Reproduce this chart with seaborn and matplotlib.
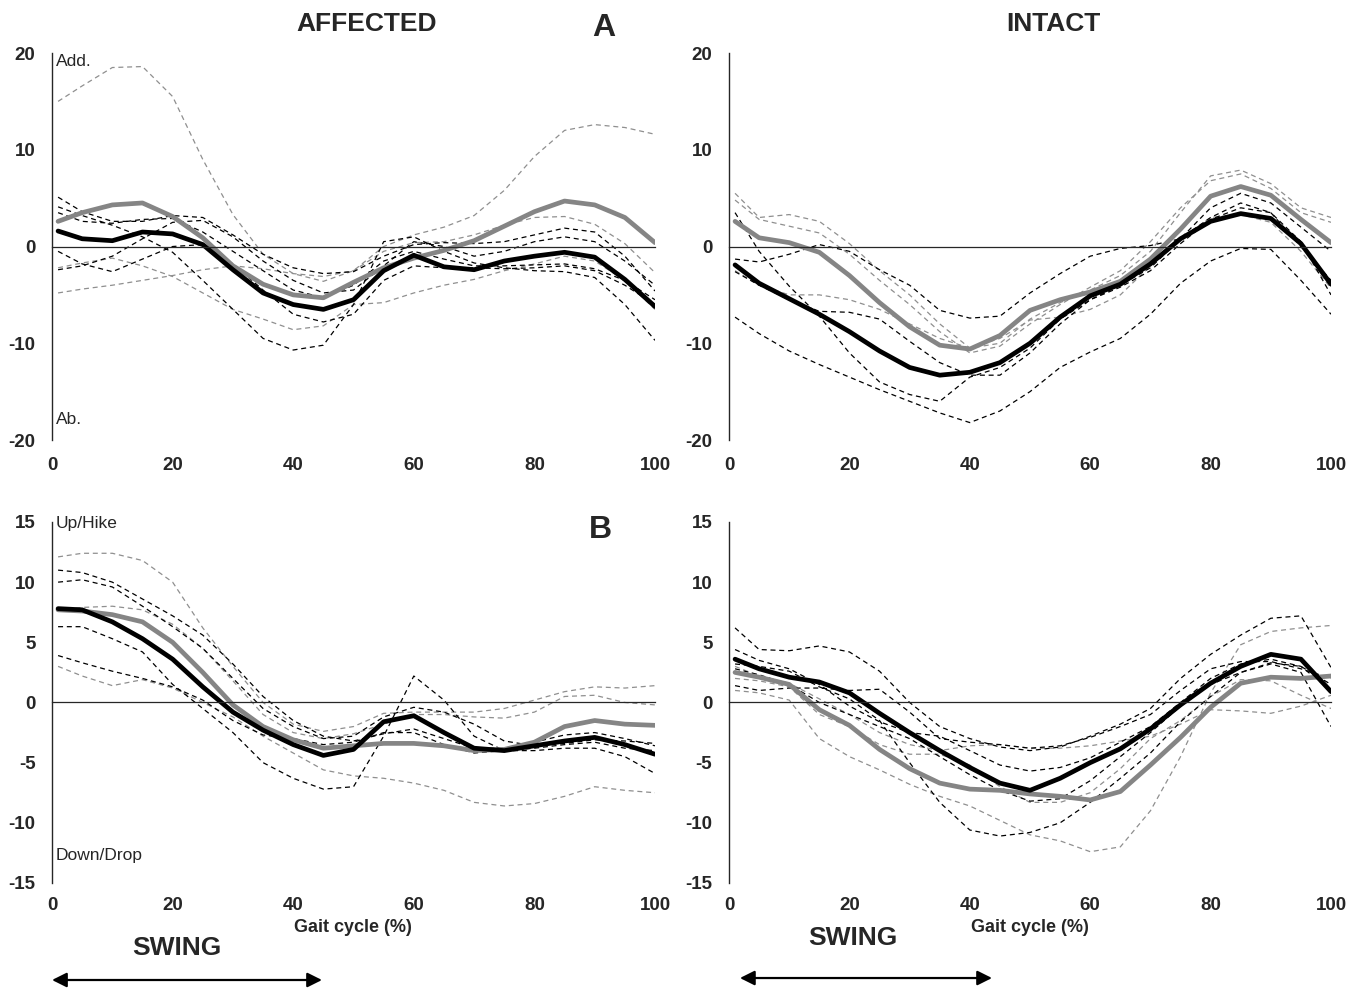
import matplotlib
matplotlib.use("Agg")
import matplotlib.pyplot as plt
import seaborn as sns

sns.set_style("white")
plt.rcParams["font.family"] = ["Liberation Sans", "DejaVu Sans"]
plt.rcParams["axes.unicode_minus"] = False

# gait cycle samples (%)
GAIT = [1, 5, 10, 15, 20, 25, 30, 35, 40, 45, 50, 55, 60, 65, 70, 75, 80, 85, 90, 95, 100]

# ---- A, affected side ----
A_AFF_BLACK = [1.6, 0.8, 0.6, 1.5, 1.3, 0.2, -2.4, -4.8, -6.0, -6.5, -5.5, -2.5, -0.9, -2.1, -2.4, -1.5, -1.0, -0.6, -1.1, -3.4, -6.2]
A_AFF_GRAY = [2.6, 3.5, 4.3, 4.5, 3.1, 0.9, -2.0, -3.9, -5.0, -5.3, -3.7, -2.2, -1.2, -0.4, 0.6, 2.1, 3.6, 4.7, 4.3, 3.0, 0.4]
A_AFF_K1 = [5.1, 3.6, 2.6, 2.6, 3.2, 3.0, 1.2, -0.8, -2.2, -2.8, -2.6, -1.0, 0.2, 0.4, 0.3, 0.5, 1.2, 1.9, 1.5, -1.0, -4.6]
A_AFF_K2 = [4.1, 3.2, 2.2, 1.0, -0.6, -3.5, -6.5, -9.5, -10.7, -10.2, -6.0, 0.5, 1.0, -0.5, -1.7, -2.2, -2.5, -2.6, -3.2, -6.0, -9.7]
A_AFF_K3 = [-0.5, -1.8, -2.6, -1.3, 0.0, 0.2, -1.8, -4.5, -7.0, -7.8, -7.0, -3.5, -2.0, -2.2, -2.2, -2.3, -2.2, -2.0, -2.5, -4.0, -6.0]
A_AFF_K4 = [-2.4, -2.0, -1.0, 0.8, 2.5, 2.7, 1.0, -1.5, -3.5, -4.8, -4.5, -2.0, 0.5, 0.0, -1.0, -0.5, 0.5, 1.0, 0.5, -1.5, -4.0]
A_AFF_K5 = [3.5, 2.6, 2.4, 2.8, 2.9, 1.5, -0.5, -2.5, -4.5, -5.3, -4.0, -1.5, -0.5, -1.3, -2.0, -2.0, -1.9, -1.8, -2.3, -3.5, -5.5]
A_AFF_G1 = [15.0, 16.6, 18.5, 18.6, 15.5, 9.0, 3.3, -0.8, -2.8, -3.6, -2.5, 0.0, 1.2, 2.0, 3.2, 5.8, 9.3, 12.0, 12.6, 12.3, 11.6]
A_AFF_G2 = [-2.2, -1.7, -1.2, -2.0, -3.1, -4.8, -6.5, -7.5, -8.6, -8.2, -6.0, -5.8, -4.8, -4.0, -3.4, -2.5, -1.8, -1.0, -1.5, -3.5, -6.5]
A_AFF_G3 = [-4.8, -4.4, -4.0, -3.5, -3.0, -2.4, -2.0, -2.3, -2.8, -3.1, -2.5, -0.5, 0.4, 0.5, 1.2, 2.2, 3.0, 3.1, 2.3, 0.3, -2.7]

# ---- A, intact side ----
A_INT_BLACK = [-1.9, -3.8, -5.4, -7.0, -8.8, -10.8, -12.5, -13.3, -13.0, -12.0, -10.0, -7.3, -5.1, -3.9, -1.8, 0.8, 2.6, 3.4, 2.9, 0.3, -3.9]
A_INT_GRAY = [2.6, 0.9, 0.4, -0.6, -3.0, -5.8, -8.3, -10.2, -10.6, -9.2, -6.6, -5.5, -4.7, -3.6, -1.3, 1.8, 5.2, 6.2, 5.3, 2.8, 0.4]
A_INT_K1 = [3.5, -0.5, -4.1, -7.2, -11.0, -14.0, -15.3, -16.0, -13.5, -12.5, -10.5, -7.5, -5.5, -4.0, -2.2, 0.8, 3.0, 4.5, 3.5, 0.0, -3.5]
A_INT_K2 = [-1.3, -1.6, -0.8, 0.2, -0.5, -2.4, -4.0, -6.6, -7.4, -7.2, -4.8, -2.8, -1.0, -0.2, 0.1, 0.8, 4.0, 5.5, 4.5, 2.0, -0.5]
A_INT_K3 = [-2.6, -4.0, -5.5, -6.7, -6.8, -7.5, -9.8, -12.0, -13.3, -13.3, -11.0, -8.0, -5.5, -4.2, -2.5, 0.3, 2.8, 4.0, 3.5, 0.5, -5.0]
A_INT_K4 = [-7.3, -9.0, -10.8, -12.2, -13.5, -14.8, -16.0, -17.2, -18.2, -17.0, -15.0, -12.5, -10.9, -9.5, -7.0, -3.8, -1.5, -0.2, -0.3, -3.5, -7.0]
A_INT_G1 = [5.5, 3.0, 3.3, 2.6, 0.3, -2.5, -5.0, -8.0, -10.5, -10.0, -7.5, -5.8, -4.5, -3.0, -0.5, 3.5, 7.3, 7.9, 6.5, 4.0, 3.0]
A_INT_G2 = [4.8, 2.8, 2.1, 1.4, -0.8, -3.5, -6.0, -8.8, -11.0, -10.3, -8.0, -6.0, -4.2, -2.5, 0.5, 4.0, 6.8, 7.5, 6.0, 3.5, 2.5]
A_INT_G3 = [-2.5, -4.0, -5.0, -5.0, -5.5, -6.5, -8.0, -9.5, -10.5, -9.5, -7.6, -7.3, -6.5, -5.0, -2.0, 0.8, 3.0, 3.3, 2.5, -0.5, -4.3]

# ---- B, affected side ----
B_AFF_BLACK = [7.8, 7.7, 6.7, 5.3, 3.6, 1.3, -0.8, -2.3, -3.5, -4.4, -3.9, -1.6, -1.1, -2.5, -3.8, -4.0, -3.6, -3.2, -2.9, -3.5, -4.3]
B_AFF_GRAY = [7.7, 7.6, 7.3, 6.7, 5.0, 2.5, -0.2, -2.0, -3.1, -3.8, -3.6, -3.4, -3.4, -3.6, -4.0, -3.9, -3.3, -2.0, -1.5, -1.8, -1.9]
B_AFF_K1 = [11.0, 10.8, 10.0, 8.6, 7.2, 5.6, 3.2, 0.5, -1.5, -2.8, -3.2, -2.6, -2.2, -3.0, -3.8, -3.8, -3.3, -2.7, -2.5, -3.0, -3.6]
B_AFF_K2 = [10.0, 10.2, 9.6, 8.0, 6.3, 4.5, 2.0, -0.5, -2.0, -3.0, -2.8, -1.2, -0.4, -0.8, -1.8, -3.2, -3.6, -3.4, -3.1, -3.2, -3.4]
B_AFF_K3 = [6.3, 6.3, 5.3, 4.2, 1.5, -0.5, -2.5, -5.0, -6.3, -7.2, -7.0, -2.8, 2.2, 0.2, -2.8, -4.0, -4.0, -3.8, -3.8, -4.5, -5.9]
B_AFF_K4 = [3.9, 3.3, 2.6, 2.0, 1.3, 0.2, -1.5, -2.7, -3.0, -3.5, -3.3, -2.5, -2.5, -3.5, -4.2, -4.0, -3.8, -3.5, -3.3, -3.8, -4.0]
B_AFF_G1 = [12.1, 12.4, 12.4, 11.8, 10.0, 6.2, 3.0, 0.0, -1.8, -2.4, -2.0, -0.9, -0.8, -0.8, -0.8, -0.5, 0.2, 0.9, 1.3, 1.2, 1.4]
B_AFF_G2 = [7.7, 7.9, 8.0, 7.7, 6.5, 4.5, 1.8, -1.0, -2.5, -3.0, -2.6, -1.8, -1.0, -1.0, -1.2, -1.3, -0.8, 0.5, 0.6, 0.0, -0.2]
B_AFF_G3 = [3.0, 2.2, 1.4, 1.9, 1.2, 0.0, -1.2, -2.8, -4.2, -5.6, -6.1, -6.3, -6.7, -7.3, -8.3, -8.6, -8.4, -7.8, -7.0, -7.3, -7.5]

# ---- B, intact side ----
B_INT_BLACK = [3.6, 2.8, 2.1, 1.7, 0.8, -0.9, -2.5, -4.0, -5.4, -6.7, -7.3, -6.3, -5.0, -3.85, -2.2, -0.2, 1.6, 3.0, 4.0, 3.6, 0.9]
B_INT_GRAY = [2.5, 2.1, 1.5, -0.6, -1.9, -3.9, -5.5, -6.7, -7.2, -7.3, -7.6, -7.8, -8.1, -7.4, -5.2, -2.9, -0.4, 1.6, 2.1, 2.0, 2.2]
B_INT_K1 = [6.2, 4.4, 4.3, 4.7, 4.2, 2.6, 0.0, -2.0, -3.0, -3.7, -4.0, -3.7, -2.8, -1.8, -0.5, 2.0, 4.0, 5.6, 7.0, 7.2, 2.9]
B_INT_K2 = [4.4, 3.5, 2.8, 1.5, -0.3, -1.6, -2.5, -2.8, -4.0, -5.2, -5.7, -5.4, -4.6, -3.3, -2.0, 0.0, 2.0, 3.2, 3.6, 3.0, 1.0]
B_INT_K3 = [2.8, 2.3, 1.5, 0.0, -1.0, -2.0, -3.0, -4.5, -6.0, -7.3, -8.2, -8.0, -6.5, -4.5, -2.5, -0.3, 1.5, 2.5, 3.2, 2.5, -2.0]
B_INT_K4 = [1.4, 1.0, 1.2, 1.2, 1.0, 1.1, -0.8, -3.0, -3.3, -3.5, -3.8, -3.6, -2.9, -2.0, -1.0, 1.0, 2.8, 3.4, 3.4, 2.8, 2.0]
B_INT_K5 = [3.2, 3.0, 2.6, 1.3, 0.3, -1.5, -5.0, -8.3, -10.6, -11.1, -10.8, -10.0, -8.3, -6.3, -4.2, -1.6, 0.5, 2.5, 3.3, 3.0, 1.5]
B_INT_G1 = [1.0, 0.8, 0.2, -3.0, -4.5, -5.6, -6.8, -7.8, -8.6, -9.8, -11.0, -11.5, -12.4, -12.0, -9.0, -4.5, 0.8, 4.8, 5.9, 6.2, 6.4]
B_INT_G2 = [3.0, 2.2, 1.6, 0.3, -1.0, -2.5, -3.5, -4.0, -3.6, -3.5, -3.8, -3.8, -3.6, -3.2, -2.8, -1.8, -0.6, -0.7, -0.9, -0.3, 0.6]
B_INT_G3 = [2.0, 1.8, 1.3, -1.0, -2.0, -3.5, -4.3, -4.3, -5.2, -7.0, -8.3, -8.3, -7.5, -5.5, -3.0, -1.5, 0.5, 1.9, 1.8, 0.6, -0.5]

A_TICKS = [-20, -10, 0, 10, 20]
B_TICKS = [-15, -10, -5, 0, 5, 10, 15]
X_TICKS = [0, 20, 40, 60, 80, 100]

MEAN_GRAY = "#858585"
DASH_GRAY = "#8f8f8f"
TICK_SIZE = 13.5


def draw_panel(ax, black_mean, gray_mean, black_dashed, gray_dashed, yticks, label_pad):
    for vals in gray_dashed:
        sns.lineplot(x=GAIT, y=vals, ax=ax, color=DASH_GRAY, linewidth=0.9, linestyle=(0, (4, 3)))
    for vals in black_dashed:
        sns.lineplot(x=GAIT, y=vals, ax=ax, color="black", linewidth=0.9, linestyle=(0, (4, 3)))
    sns.lineplot(x=GAIT, y=gray_mean, ax=ax, color=MEAN_GRAY, linewidth=3.4)
    sns.lineplot(x=GAIT, y=black_mean, ax=ax, color="black", linewidth=3.4)

    ax.set_xlim(0, 100)
    ax.set_ylim(yticks[0], yticks[-1])
    ax.spines[["top", "right"]].set_visible(False)
    ax.spines["left"].set_linewidth(1.0)
    ax.spines["bottom"].set_position(("data", 0))
    ax.spines["bottom"].set_linewidth(0.9)
    ax.set_xticks(X_TICKS[1:])
    ax.tick_params(axis="x", direction="out", length=4, width=0.9, labelbottom=False)
    ax.set_yticks(yticks)
    ax.tick_params(axis="y", direction="out", length=3, width=1.0, labelsize=TICK_SIZE, pad=9)
    for lab in ax.get_yticklabels():
        lab.set_fontweight("bold")

    sec = ax.secondary_xaxis("bottom")
    sec.set_xticks(X_TICKS)
    sec.tick_params(length=0, labelsize=TICK_SIZE, pad=label_pad)
    sec.spines["bottom"].set_visible(False)
    for lab in sec.get_xticklabels():
        lab.set_fontweight("bold")


fig = plt.figure(figsize=(13.66, 9.89), dpi=100)
ax_a_aff = fig.add_axes([0.0381, 0.5551, 0.4414, 0.3913])
ax_a_int = fig.add_axes([0.5337, 0.5551, 0.4407, 0.3913])
ax_b_aff = fig.add_axes([0.0381, 0.1072, 0.4414, 0.3650])
ax_b_int = fig.add_axes([0.5337, 0.1072, 0.4407, 0.3650])

draw_panel(ax_a_aff, A_AFF_BLACK, A_AFF_GRAY,
           [A_AFF_K1, A_AFF_K2, A_AFF_K3, A_AFF_K4, A_AFF_K5],
           [A_AFF_G1, A_AFF_G2, A_AFF_G3], A_TICKS, 12)
draw_panel(ax_a_int, A_INT_BLACK, A_INT_GRAY,
           [A_INT_K1, A_INT_K2, A_INT_K3, A_INT_K4],
           [A_INT_G1, A_INT_G2, A_INT_G3], A_TICKS, 12)
draw_panel(ax_b_aff, B_AFF_BLACK, B_AFF_GRAY,
           [B_AFF_K1, B_AFF_K2, B_AFF_K3, B_AFF_K4],
           [B_AFF_G1, B_AFF_G2, B_AFF_G3], B_TICKS, 10)
draw_panel(ax_b_int, B_INT_BLACK, B_INT_GRAY,
           [B_INT_K1, B_INT_K2, B_INT_K3, B_INT_K4, B_INT_K5],
           [B_INT_G1, B_INT_G2, B_INT_G3], B_TICKS, 10)

# direction labels inside the affected panels
ax_a_aff.text(0.6, 19.1, "Add.", fontsize=12.5, va="center", ha="left")
ax_a_aff.text(0.6, -17.9, "Ab.", fontsize=12.5, va="center", ha="left")
ax_b_aff.text(0.6, 14.9, "Up/Hike", fontsize=12.5, va="center", ha="left")
ax_b_aff.text(0.6, -12.7, "Down/Drop", fontsize=12.5, va="center", ha="left")

fig.text(0.2687, 0.9757, "AFFECTED", fontsize=19, fontweight="bold", ha="center", va="center")
fig.text(0.7709, 0.9757, "INTACT", fontsize=19, fontweight="bold", ha="center", va="center")
fig.text(0.4422, 0.9717, "A", fontsize=23, fontweight="bold", ha="center", va="center")
fig.text(0.4392, 0.4641, "B", fontsize=23, fontweight="bold", ha="center", va="center")

fig.text(0.2584, 0.0617, "Gait cycle (%)", fontsize=13, fontweight="bold", ha="center", va="center")
fig.text(0.7540, 0.0617, "Gait cycle (%)", fontsize=13, fontweight="bold", ha="center", va="center")
fig.text(0.1296, 0.0415, "SWING", fontsize=19, fontweight="bold", ha="center", va="center")
fig.text(0.6245, 0.0516, "SWING", fontsize=19, fontweight="bold", ha="center", va="center")

arrow = dict(arrowstyle="<|-|>", color="black", lw=1.6, mutation_scale=22, shrinkA=0, shrinkB=0)
fig.add_artist(matplotlib.patches.FancyArrowPatch((0.0381, 0.0091), (0.2357, 0.0091),
                                                  transform=fig.transFigure, **arrow))
fig.add_artist(matplotlib.patches.FancyArrowPatch((0.5417, 0.0111), (0.7262, 0.0111),
                                                  transform=fig.transFigure, **arrow))

fig.savefig("out.png", dpi=100)
plt.close(fig)
